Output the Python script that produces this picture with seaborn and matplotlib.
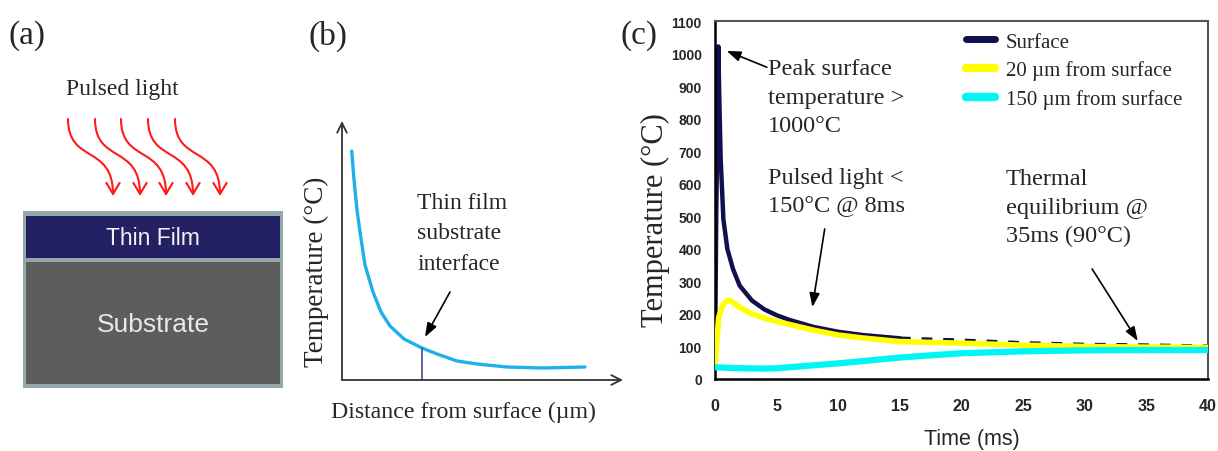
import matplotlib
matplotlib.use('Agg')
import matplotlib.pyplot as plt
import seaborn as sns
import numpy as np
import pandas as pd
from matplotlib.patches import Rectangle, FancyArrowPatch
from matplotlib.path import Path
from matplotlib.lines import Line2D

# ---------------- data : panel (c) ----------------
surface_t = [0, 0.1, 0.27, 0.35, 0.46, 0.68, 1.0, 1.46, 2, 3, 4, 5, 6, 8, 10, 12, 15, 20, 25, 30, 35, 40]
surface_v = [35, 500, 1022, 860, 676, 491, 400, 338, 287, 241, 214, 196, 182, 160, 145, 135, 125, 119, 111, 106, 104, 101]

film20_t = [0, 0.15, 0.3, 0.6, 0.9, 1.2, 1.6, 2, 3, 4, 5, 6, 8, 10, 12, 15, 20, 25, 30, 35, 40]
film20_v = [36, 120, 190, 225, 238, 242, 232, 220, 200, 187, 177, 168, 150, 135, 126, 115, 110, 104, 100, 98, 97]

film150_t = [0, 2, 4, 5, 6, 8, 10, 12, 15, 18, 20, 25, 30, 35, 40]
film150_v = [36, 33, 32, 33, 36, 42, 48, 55, 66, 74, 79, 85, 88, 89, 89]

series_labels = ['Surface', '20 µm from surface', '150 µm from surface']
series_colors = ['#10104f', '#ffff00', '#00f5f5']
x_ticks = list(range(0, 45, 5))
y_ticks = list(range(0, 1200, 100))

# ---------------- data : panel (b) (conceptual profile) ----------------
profile_x = [0.97, 1.2, 1.5, 1.8, 2.3, 3.1, 3.9, 4.8, 6.2, 8.0, 9.5, 11.5, 13.5, 16.5, 20.0, 24.3]
profile_y = [22.9, 20.0, 17.0, 14.8, 11.5, 8.8, 6.8, 5.4, 4.1, 3.2, 2.6, 1.9, 1.6, 1.3, 1.2, 1.3]
interface_x = 8.0

sns.set_style('white')
plt.rcParams['font.family'] = ['Liberation Serif', 'DejaVu Serif']
SANS = ['Liberation Sans', 'DejaVu Sans']

W, H = 1218, 452
fig = plt.figure(figsize=(W / 100, H / 100), dpi=100)

ov = fig.add_axes([0, 0, 1, 1])
ov.set_xlim(0, W)
ov.set_ylim(H, 0)
ov.axis('off')


def fig_ax(x0, y0, x1, y1):
    return fig.add_axes([x0 / W, 1 - y1 / H, (x1 - x0) / W, (y1 - y0) / H])


# ---------------- panel (a) ----------------
ov.text(9, 36, '(a)', ha='left', va='center', fontsize=24)
ov.text(122, 90, 'Pulsed light', ha='center', va='center', fontsize=17)
for sx in [68, 95, 121, 148, 175]:
    verts = [(sx, 120), (sx, 165), (sx + 45, 145), (sx + 45, 197)]
    path = Path(verts, [Path.MOVETO, Path.CURVE4, Path.CURVE4, Path.CURVE4])
    ov.add_patch(FancyArrowPatch(path=path, arrowstyle='->,head_length=0.5,head_width=0.3',
                                 mutation_scale=16, color='#ff1a1a', lw=1.5))
ov.add_patch(Rectangle((23, 212), 260, 177, facecolor='#93a8ab', edgecolor='none'))
ov.add_patch(Rectangle((26, 217), 254, 42, facecolor='#232163', edgecolor='none'))
ov.add_patch(Rectangle((26, 263), 254, 122, facecolor='#5d5d5d', edgecolor='none'))
ov.text(153, 239, 'Thin Film', ha='center', va='center', color='#f2f2f2', fontsize=16.5, family=SANS)
ov.text(153, 325, 'Substrate', ha='center', va='center', color='#e8e8e8', fontsize=19, family=SANS)

# ---------------- panel (b) ----------------
ov.text(309, 36, '(b)', ha='left', va='center', fontsize=24)
axb = fig_ax(342, 122, 623, 381)
axb.set_xlim(0, 28.1)
axb.set_ylim(0, 25.9)
axb.axis('off')
sns.lineplot(x=profile_x, y=profile_y, ax=axb, color='#1fb0ea', lw=2.4, estimator=None, sort=False)
axb.plot([interface_x, interface_x], [0, np.interp(interface_x, profile_x, profile_y)],
         color='#4a4a8c', lw=1.2)
for end in [(0, 1), (1, 0)]:
    axb.annotate('', xy=end, xytext=(0, 0), xycoords='axes fraction',
                 arrowprops=dict(arrowstyle='->,head_length=0.5,head_width=0.25', lw=1.3,
                                 color='#333333', shrinkA=0, shrinkB=0, mutation_scale=14),
                 annotation_clip=False)
axb.annotate('', xy=(8.3, 4.3), xytext=(10.8, 8.8),
             arrowprops=dict(arrowstyle='-|>,head_length=0.6,head_width=0.22', lw=1.2,
                             color='black', shrinkA=0, shrinkB=0, mutation_scale=14))
ov.text(417, 234, 'Thin film\nsubstrate\ninterface', ha='left', va='center', fontsize=17, linespacing=1.6)
ov.text(316, 272, 'Temperature (°C)', rotation=90, ha='center', va='center', fontsize=19.5)
ov.text(463, 412, 'Distance from surface (µm)', ha='center', va='center', fontsize=17.2)

# ---------------- panel (c) ----------------
ov.text(621, 36, '(c)', ha='left', va='center', fontsize=24)
axc = fig_ax(715, 22, 1208, 380)

surf = pd.DataFrame({'t': surface_t, 'v': surface_v})
f20 = pd.DataFrame({'t': film20_t, 'v': film20_v})
f150 = pd.DataFrame({'t': film150_t, 'v': film150_v})

sns.lineplot(data=surf[surf.t <= 15], x='t', y='v', ax=axc, color=series_colors[0], lw=3.2,
             estimator=None, sort=False, zorder=2)
sns.lineplot(data=surf[surf.t >= 15], x='t', y='v', ax=axc, color=series_colors[0], lw=2.6,
             estimator=None, sort=False, zorder=2, dashes=False, linestyle=(0, (3, 3)))
sns.lineplot(data=f20, x='t', y='v', ax=axc, color=series_colors[1], lw=4, estimator=None,
             sort=False, zorder=3)
sns.lineplot(data=f150, x='t', y='v', ax=axc, color=series_colors[2], lw=4.5, estimator=None,
             sort=False, zorder=4)

axc.set_xlim(0, 40)
axc.set_ylim(0, 1100)
axc.set_xticks(x_ticks, labels=[str(v) for v in x_ticks], fontsize=11.5, fontweight='bold', family=SANS)
axc.set_yticks(y_ticks, labels=[str(v) for v in y_ticks], fontsize=10, fontweight='bold', family=SANS)
axc.tick_params(axis='both', direction='out', length=4.5, width=1.5, color='black')
axc.tick_params(axis='x', pad=9)
axc.tick_params(axis='y', pad=5)
axc.set_xlabel('')
axc.set_ylabel('')
for s in ['left', 'bottom']:
    axc.spines[s].set(color='black', lw=1.8, visible=True)
for s in ['top', 'right']:
    axc.spines[s].set(color='#555555', lw=1.5, visible=True)

handles = [Line2D([], [], color=series_colors[0], lw=5),
           Line2D([], [], color=series_colors[1], lw=6),
           Line2D([], [], color=series_colors[2], lw=6)]
axc.legend(handles, series_labels, loc='upper left', bbox_to_anchor=(966 / W, 1 - 33 / H),
           bbox_transform=fig.transFigure, frameon=False, fontsize=15, handlelength=1.4,
           handletextpad=0.5, labelspacing=0.42, borderpad=0, borderaxespad=0)

arrow_kw = dict(arrowstyle='-|>,head_length=0.6,head_width=0.22', lw=1.2, color='black',
                shrinkA=0, shrinkB=0, mutation_scale=14)
axc.annotate('', xy=(0.95, 1008), xytext=(4.2, 958), arrowprops=arrow_kw)
axc.annotate('', xy=(7.9, 221), xytext=(8.9, 461), arrowprops=arrow_kw)
axc.annotate('', xy=(34.3, 117), xytext=(30.6, 338), arrowprops=arrow_kw)
axc.text(4.3, 866, 'Peak surface\ntemperature >\n1000°C', ha='left', va='center', fontsize=17.5, linespacing=1.45)
axc.text(4.3, 575, 'Pulsed light <\n150°C @ 8ms', ha='left', va='center', fontsize=17.5, linespacing=1.45)
axc.text(23.6, 528, 'Thermal\nequilibrium @\n35ms (90°C)', ha='left', va='center', fontsize=17.5, linespacing=1.45)

ov.text(972, 440, 'Time (ms)', ha='center', va='center', fontsize=15.5, family=SANS)
ov.text(655, 220, 'Temperature (°C)', rotation=90, ha='center', va='center', fontsize=22)

fig.savefig('out.png', dpi=100)
